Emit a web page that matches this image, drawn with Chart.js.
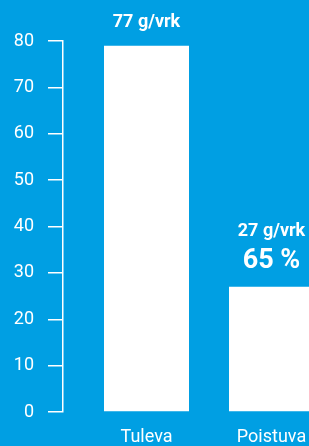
<!DOCTYPE html>
<html>
<head>
<meta charset="utf-8">
<script src="https://cdn.jsdelivr.net/npm/chart.js@4"></script>
<style>
  html, body { margin: 0; padding: 0; background: #009fe3; overflow: hidden; }
  #wrap { width: 309px; height: 446px; position: relative; }
</style>
</head>
<body>
<div id="wrap"><canvas id="myChart"></canvas></div>
<script>
// values
const categories = ['Tuleva', 'Poistuva'];
const values = [79, 27];
const amountLabels = ['77 g/vrk', '27 g/vrk'];
const shareLabels = ['', '65 %'];
const yMin = 0;
const yMax = 80;
const yStep = 10;

const fontFamily = 'Roboto, "Open Sans", sans-serif';

// text above the bars
const barLabels = {
    id: 'barLabels',
    afterDatasetsDraw(chart) {
        const ctx = chart.ctx;
        const meta = chart.getDatasetMeta(0);
        ctx.save();
        ctx.fillStyle = '#ffffff';
        ctx.textAlign = 'center';
        ctx.textBaseline = 'middle';
        meta.data.forEach((bar, i) => {
            let y = bar.y - 23;
            if (shareLabels[i]) {
                ctx.font = 'bold 27px ' + fontFamily;
                ctx.fillText(shareLabels[i], bar.x, bar.y - 26);
                y = bar.y - 55;
            }
            ctx.font = 'bold 18px ' + fontFamily;
            ctx.fillText(amountLabels[i], bar.x, y);
        });
        ctx.restore();
    }
};

const chrt = document.getElementById('myChart');
new Chart(chrt, {
    type: 'bar',
    data: {
        datasets: [{
            data: values.map((v, i) => ({ x: i + 1, y: v })),
            backgroundColor: '#ffffff',
            borderWidth: 0,
            barPercentage: 0.68,
            categoryPercentage: 1
        }]
    },
    options: {
        responsive: true,
        maintainAspectRatio: false,
        animation: false,
        layout: { padding: { top: 41, left: 0, right: 0, bottom: 0 } },
        plugins: {
            legend: { display: false },
            tooltip: { enabled: false }
        },
        scales: {
            x: {
                type: 'linear',
                offset: false,
                bounds: 'data',
                min: 0.332,
                max: 2.3,
                afterBuildTicks: (scale) => {
                    scale.ticks = categories.map((c, i) => ({ value: i + 1 }));
                },
                afterFit: (scale) => {
                    scale.height = 34;
                    scale.paddingLeft = 0;
                    scale.paddingRight = 0;
                },
                grid: { display: false, drawTicks: false },
                border: { display: false },
                ticks: {
                    color: '#ffffff',
                    padding: 15,
                    maxRotation: 0,
                    autoSkip: false,
                    font: { family: fontFamily, size: 18 },
                    callback: (v) => categories[v - 1] || ''
                }
            },
            y: {
                min: yMin,
                max: yMax,
                afterFit: (scale) => { scale.width = 63; },
                grid: {
                    display: true,
                    drawOnChartArea: false,
                    drawTicks: true,
                    tickLength: 15,
                    color: '#ffffff',
                    lineWidth: 1.5
                },
                border: { display: true, color: '#ffffff', width: 1.5 },
                ticks: {
                    stepSize: yStep,
                    color: '#ffffff',
                    padding: 14,
                    font: { family: fontFamily, size: 18 }
                }
            }
        }
    },
    plugins: [barLabels]
});
</script>
</body>
</html>
